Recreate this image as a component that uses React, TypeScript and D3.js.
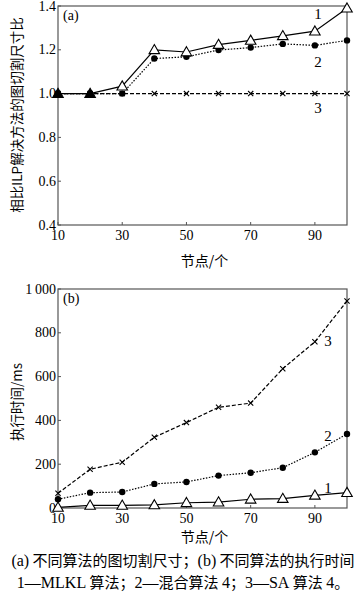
import React from "react";
import * as d3 from "d3";

const nodes = [10, 20, 30, 40, 50, 60, 70, 80, 90, 100];
const xTicks = [10, 30, 50, 70, 90];

// (a) cut size ratio vs ILP
const ratioMLKL = [1.0, 1.0, 1.034, 1.2, 1.19, 1.224, 1.243, 1.264, 1.285, 1.39];
const ratioHybrid = [1.0, 1.0, 1.0, 1.16, 1.168, 1.199, 1.21, 1.227, 1.22, 1.243];
const ratioSA = [1.0, 1.0, 1.0, 1.0, 1.0, 1.0, 1.0, 1.0, 1.0, 1.0];
const ratioTicks = [0.4, 0.6, 0.8, 1.0, 1.2, 1.4];

// (b) execution time (ms)
const timeMLKL = [3, 12, 12, 14, 24, 27, 40, 43, 58, 70];
const timeHybrid = [40, 70, 73, 110, 119, 148, 161, 184, 254, 338];
const timeSA = [67, 177, 209, 323, 390, 460, 479, 636, 759, 945];
const timeTicks = [0, 200, 400, 600, 800, 1000];
const timeTickLabels = ["0", "200", "400", "600", "800", "1\u2009000"];

const SERIF = "'Liberation Serif','DejaVu Serif',serif";
const CJK = "'Noto Sans CJK SC','Liberation Serif',serif";

const X0 = 58, X1 = 347;
const x = d3.scaleLinear().domain([10, 100]).range([X0, X1]);

type Series = { values: number[]; kind: "tri" | "dot" | "cross"; dash: string };

function Marker({ kind, cx, cy, filled }: { kind: string; cx: number; cy: number; filled?: boolean }) {
  if (kind === "tri") {
    const tri = d3.symbol().type(d3.symbolTriangle).size(48)();
    return <path d={tri || ""} transform={`translate(${cx},${cy + 0.8})`} fill={filled ? "#000" : "#fff"} stroke="#000" strokeWidth={1.1} />;
  }
  if (kind === "dot") return <circle cx={cx} cy={cy} r={3.2} fill="#000" />;
  const s = 2.6;
  return (
    <path d={`M${cx - s},${cy - s}L${cx + s},${cy + s}M${cx - s},${cy + s}L${cx + s},${cy - s}`} stroke="#000" strokeWidth={1.1} />
  );
}

function Panel({
  top, bottom, domain, ticks, tickLabels, series, tag, yLabel, yLabelCenter, numLabels, xLabelY,
}: {
  top: number; bottom: number; domain: [number, number]; ticks: number[]; tickLabels: string[];
  series: Series[]; tag: string; yLabel: string; yLabelCenter: number;
  numLabels: { t: string; x: number; y: number }[]; xLabelY: number;
}) {
  const y = d3.scaleLinear().domain(domain).range([bottom, top]);
  const line = d3.line<[number, number]>().x((d) => x(d[0])).y((d) => y(d[1]));
  const frame = "#555";
  return (
    <g>
      <rect x={X0} y={top} width={X1 - X0} height={bottom - top} fill="none" stroke={frame} strokeWidth={1.2} />
      {ticks.map((t, i) => (
        <g key={"y" + t}>
          <line x1={X0} x2={X0 + 3} y1={y(t)} y2={y(t)} stroke={frame} />
          <text x={X0 - 2} y={y(t)} dy="0.33em" textAnchor="end" fontFamily={SERIF} fontSize={14}>{tickLabels[i]}</text>
        </g>
      ))}
      {xTicks.map((t) => (
        <g key={"x" + t}>
          <line x1={x(t)} x2={x(t)} y1={bottom} y2={bottom - 3} stroke={frame} />
          <text x={x(t)} y={bottom + 15} textAnchor="middle" fontFamily={SERIF} fontSize={14}>{t}</text>
        </g>
      ))}
      {series.map((s, si) => (
        <path key={"l" + si} d={line(nodes.map((n, i) => [n, s.values[i]]) as [number, number][]) || ""} fill="none" stroke="#000" strokeWidth={1.2} strokeDasharray={s.dash} />
      ))}
      {series.map((s, si) =>
        s.values.map((v, i) => {
          const overlap = s.kind === "tri" && series.every((o) => o.values[i] === v);
          return <Marker key={si + "-" + i} kind={s.kind} cx={x(nodes[i])} cy={y(v)} filled={overlap} />;
        })
      )}
      <text x={63} y={top + 14} fontFamily={SERIF} fontSize={14}>{tag}</text>
      {numLabels.map((l) => (
        <text key={l.t} x={l.x} y={l.y} dy="0.35em" textAnchor="middle" fontFamily={SERIF} fontSize={15}>{l.t}</text>
      ))}
      <text transform={`translate(17,${yLabelCenter}) rotate(-90)`} textAnchor="middle" dy="0.35em" fontFamily={CJK} fontSize={13.5}>{yLabel}</text>
      <text x={(X0 + X1) / 2 + 2} y={xLabelY} dy="0.35em" textAnchor="middle" fontFamily={CJK} fontSize={14}>节点/个</text>
    </g>
  );
}

export default function App() {
  return (
    <svg width={357} height={592} style={{ position: "absolute", left: 0, top: 0, background: "#fff" }}>
      <rect width={357} height={592} fill="#fff" />
      <Panel
        top={6} bottom={225} domain={[0.4, 1.4]} ticks={ratioTicks}
        tickLabels={ratioTicks.map((t) => t.toFixed(1))}
        series={[
          { values: ratioSA, kind: "cross", dash: "4,2" },
          { values: ratioHybrid, kind: "dot", dash: "1.5,1.5" },
          { values: ratioMLKL, kind: "tri", dash: "" },
        ]}
        tag="(a)" yLabel="相比ILP解决方法的图切割尺寸比" yLabelCenter={115}
        numLabels={[{ t: "1", x: 318, y: 14 }, { t: "2", x: 318, y: 62 }, { t: "3", x: 318, y: 108 }]}
        xLabelY={261}
      />
      <Panel
        top={289} bottom={508} domain={[0, 1000]} ticks={timeTicks} tickLabels={timeTickLabels}
        series={[
          { values: timeSA, kind: "cross", dash: "4,2" },
          { values: timeHybrid, kind: "dot", dash: "1.5,1.5" },
          { values: timeMLKL, kind: "tri", dash: "" },
        ]}
        tag="(b)" yLabel="执行时间/ms" yLabelCenter={402}
        numLabels={[{ t: "1", x: 328, y: 488 }, { t: "2", x: 328, y: 436 }, { t: "3", x: 328, y: 341 }]}
        xLabelY={537}
      />
      <text x={183} y={561} dy="0.35em" textAnchor="middle" fontFamily={CJK} fontSize={15}>
        <tspan fontFamily={SERIF} fontSize={16}>(a)</tspan> 不同算法的图切割尺寸；<tspan fontFamily={SERIF} fontSize={16}>(b)</tspan> 不同算法的执行时间
      </text>
      <text x={183} y={583} dy="0.35em" textAnchor="middle" fontFamily={CJK} fontSize={15}>
        <tspan fontFamily={SERIF} fontSize={16}>1—MLKL</tspan> 算法；<tspan fontFamily={SERIF} fontSize={16}>2—</tspan>混合算法 <tspan fontFamily={SERIF} fontSize={16}>4</tspan>；<tspan fontFamily={SERIF} fontSize={16}>3—SA</tspan> 算法 <tspan fontFamily={SERIF} fontSize={16}>4</tspan>。
      </text>
    </svg>
  );
}
